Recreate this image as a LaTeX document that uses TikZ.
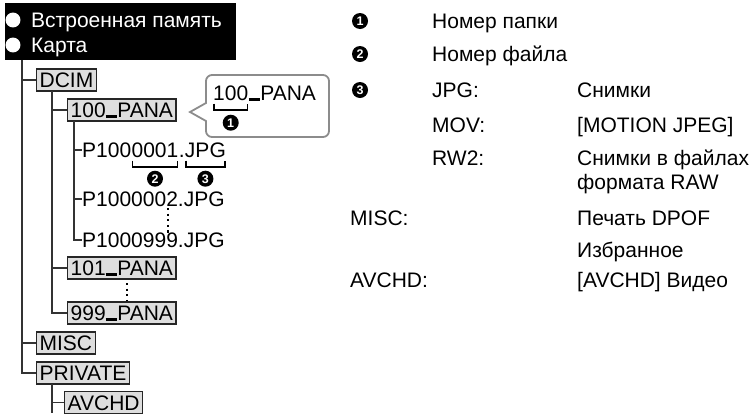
\documentclass[tikz,border=0pt]{standalone}
\usepackage{fontspec}
\setmainfont{Liberation Sans}
\usetikzlibrary{calc}
\newcommand{\usc}{\rule{0.556em}{2.4pt}}

\begin{document}
\begin{tikzpicture}[x=1pt,y=-1pt]
\tikzset{every node/.style={font=\fontsize{21}{25}\selectfont,inner sep=0pt,text height=15pt,text depth=0pt},
folder/.style={draw=black!85,fill=black!13,line width=1.3pt,inner xsep=3pt,inner ysep=3.5pt,anchor=west},
txt/.style={anchor=west},
num/.style={circle,fill=black,text=white,inner sep=0pt,minimum size=16pt,text height=9pt,text depth=0pt,font=\fontsize{12.5}{12.5}\selectfont\bfseries},
wbul/.style={circle,fill=white,minimum size=13pt},
tree/.style={line width=1.3pt,black!80},
brk/.style={line width=1.8pt},
dotcol/.style={line width=2.2pt,dash pattern=on 2.2pt off 3.4pt}}
\useasboundingbox (0,0) rectangle (751,413);

% header
\fill[black] (5,3) rectangle (236,60);
\node (b1) at (13,20) [wbul] {};
\node (mem) at (31,20) [txt,text=white] {Встроенная память};
\node (b2) at (13,45) [wbul] {};
\node (card) at (31,45) [txt,text=white] {Карта};

% folders
\coordinate (root) at (22,60);
\node (dcim) at (36,80) [folder] {DCIM};
\coordinate (dcimv) at (52,91);
\node (pana100) at (67,110) [folder] {100\usc PANA};
\coordinate (panav) at (74,121);
\node (pana101) at (67,268) [folder] {101\usc PANA};
\node (pana999) at (67,313) [folder] {999\usc PANA};
\node (misc) at (36,343) [folder] {MISC};
\node (private) at (36,373) [folder] {PRIVATE};
\coordinate (privv) at (52,384);
\node (avchd) at (64,402.5) [folder] {AVCHD};
\coordinate (privend) at (52,413);

% files
\node (f1a) at (82,150) [txt] {P100};
\node (f1b) at (f1a.east) [txt] {0001};
\node (f1c) at (f1b.east) [txt] {.};
\node (f1d) at (f1c.east) [txt] {JPG};
\node (f2) at (82,199) [txt] {P1000002.JPG};
\node (f3) at (82,240) [txt] {P1000999.JPG};
\node (n2) at ([yshift=-21pt]f1b.south) [num] {2};
\node (n3) at ([yshift=-21pt]f1d.south) [num] {3};
\draw[brk] ([xshift=1pt,yshift=-3pt]f1b.south west) -- ++(0pt,-6pt) -| ([xshift=-1pt,yshift=-3pt]f1b.south east);
\draw[brk] ([xshift=1pt,yshift=-3pt]f1d.south west) -- ++(0pt,-6pt) -| ([xshift=-1pt,yshift=-3pt]f1d.south east);

\coordinate (d1) at (168,208);
\coordinate (d2) at (168,233);
\coordinate (d3) at (127,283);
\coordinate (d4) at (127,300);
\draw[dotcol] (d1) -- (d2);
\draw[dotcol] (d3) -- (d4);

\draw[tree] (root) |- (dcim) (root) |- (misc) (root) |- (private);
\draw[tree] (dcimv) |- (pana100) (dcimv) |- (pana101) (dcimv) |- (pana999);
\draw[tree] (panav) |- (f1a) (panav) |- (f2) (panav) |- (f3);
\draw[tree] (privv) |- (avchd) (privv) -- (privend);

% callout
\draw[black!45,line width=1.8pt] (206,103) [rounded corners=6pt] -- (206,75) -- (329,75) -- (329,137) -- (206,137) [sharp corners] -- (206,121) -- (190,112) -- cycle;
\node (c1) at (213,93) [txt] {100};
\node (c2) at (c1.east) [txt] {\usc PANA};
\draw[brk] ([xshift=1pt,yshift=-3pt]c1.south west) -- ++(0pt,-6pt) -| ([xshift=-1pt,yshift=-3pt]c1.south east);
\node (n1) at ([yshift=-22pt]c1.south) [num] {1};

% legend
\node (k1) at (360,21) [num] {1};
\node (k1t) at (432,21) [txt] {Номер папки};
\node (k2) at (360,54) [num] {2};
\node (k2t) at (432,54) [txt] {Номер файла};
\node (k3) at (360,90) [num] {3};
\node (jpg) at (432,90) [txt] {JPG:};
\node (jpgt) at (577,90) [txt] {Снимки};
\node (mov) at (432,125) [txt] {MOV:};
\node (movt) at (577,125) [txt] {[MOTION JPEG]};
\node (rw) at (432,158) [txt] {RW2:};
\node (rwt) at (577,158) [txt] {Снимки в файлах};
\node (rwt2) at (577,182) [txt] {формата RAW};
\node (mi) at (350,218) [txt] {MISC:};
\node (mit) at (577,218) [txt] {Печать DPOF};
\node (mit2) at (577,250) [txt] {Избранное};
\node (av) at (350,280) [txt] {AVCHD:};
\node (avt) at (577,280) [txt] {[AVCHD] Видео};
\end{tikzpicture}
\end{document}
